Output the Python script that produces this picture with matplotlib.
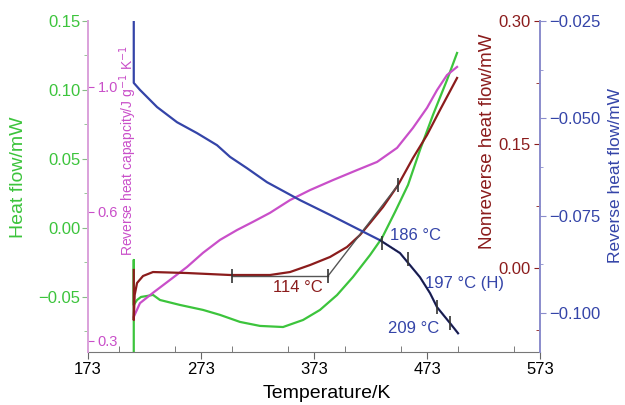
import matplotlib
matplotlib.use("Agg")
import matplotlib.pyplot as plt
import numpy as np
from matplotlib.ticker import FuncFormatter, MultipleLocator, FixedLocator

plt.rcParams['font.family'] = ['Liberation Sans', 'DejaVu Sans']

# ---------------- donnees ----------------
# flux de chaleur total (mW) - axe vert
T_hf = [213.5, 213.5, 213.5, 216.4, 219.9, 225.2, 230.5, 236.7, 254.4, 274.8, 289.8,
        307.5, 325.2, 345.6, 363.3, 378.3, 393.4, 407.5, 422.6, 433.2, 444.7, 456.2,
        466.8, 478.3, 490.7, 499.6]
hf = [-0.090, -0.0233, -0.0559, -0.0523, -0.0501, -0.0494, -0.0486, -0.0523, -0.0559,
      -0.0595, -0.0631, -0.0682, -0.0711, -0.0719, -0.0668, -0.0595, -0.0487, -0.0356,
      -0.0197, -0.0073, 0.0115, 0.0311, 0.0565, 0.0819, 0.1072, 0.1268]

# flux non reversible (mW) - axe rouge fonce
T_nr = [213.5, 213.5, 214.3, 216.4, 221.7, 230.5, 260.6, 298.7, 334.1, 351.8, 369.5,
        387.2, 402.2, 413.7, 422.6, 434.1, 447.4, 460.6, 473.0, 484.5, 499.6]
nr = [-0.0024, -0.0632, -0.0328, -0.0182, -0.0097, -0.0049, -0.0061, -0.0085, -0.0085,
      -0.0049, 0.0036, 0.0134, 0.0255, 0.0401, 0.0547, 0.0741, 0.1008, 0.1336, 0.1615,
      0.1919, 0.2308]

# flux reversible (mW) - axe bleu
T_rev = [213.5, 213.5, 219.0, 234.1, 251.8, 269.5, 287.2, 298.7, 313.7, 331.4, 360.6,
         387.2, 413.7, 431.4, 449.1, 466.8, 475.7, 481.9, 493.4, 500.5]
rev = [-0.0250, -0.0409, -0.0427, -0.0471, -0.0510, -0.0538, -0.0569, -0.0599, -0.0628,
       -0.0664, -0.0710, -0.0748, -0.0787, -0.0813, -0.0846, -0.0908, -0.0949, -0.0985,
       -0.1026, -0.1052]

# capacite calorifique reversible (J/g/K) - axe magenta
T_cp = [213.5, 219.0, 230.5, 245.6, 260.6, 274.8, 289.8, 304.9, 319.0, 334.1, 351.8,
        369.5, 389.8, 411.1, 428.8, 446.5, 460.6, 473.0, 481.9, 490.7, 499.6]
cp = [0.356, 0.388, 0.412, 0.442, 0.472, 0.505, 0.535, 0.558, 0.577, 0.598, 0.638,
      0.670, 0.702, 0.734, 0.760, 0.805, 0.869, 0.933, 0.990, 1.038, 1.064]

# reperes (petits traits) et constructions
T_nr_marks = [300.4, 385.4, 447.4]
nr_marks = [-0.0097, -0.0097, 0.1008]
T_rev_marks = [433.2, 456.2, 481.9, 493.4]
rev_marks = [-0.0820, -0.0862, -0.0985, -0.1026]
T_base = [300.4, 385.4]
nr_base = [-0.0097, -0.0097]
T_tan = [385.4, 447.4]
nr_tan = [-0.0097, 0.1008]

x_ticks = [173, 273, 373, 473, 573]
hf_ticks = [-0.05, 0.00, 0.05, 0.10, 0.15]
nr_ticks = [0.00, 0.15, 0.30]
rev_ticks = [-0.100, -0.075, -0.050, -0.025]
cp_ticks = [0.3, 0.6, 1.0]

# couleurs
c_green = '#3cc43c'
c_red = '#8b1c1c'
c_blue = '#3444a8'
c_mag = '#c94fc9'
c_grey = '#555555'


def moins(fmt):
    return FuncFormatter(lambda v, p: (fmt % v).replace('-', '\u2212'))


# echelle magenta non lineaire (graduations de l'original)
cp_knots = [0.2, 0.3, 0.6, 1.0, 1.4]
cp_lin = [0.2, 0.3, 0.6, 0.8907, 1.1814]


def cp_fwd(v):
    return np.interp(v, cp_knots, cp_lin)


def cp_inv(u):
    return np.interp(u, cp_lin, cp_knots)


# ---------------- figure ----------------
fig = plt.figure(figsize=(6.25, 4.05), dpi=100)
ax = fig.add_axes([0.1408, 0.1309, 0.7232, 0.8173])
ax_m = ax.twinx()
ax_n = ax.twinx()
ax_b = ax.twinx()

for a in (ax, ax_m, ax_n, ax_b):
    for s in a.spines.values():
        s.set_visible(False)
    a.set_xlim(173, 573)

# axe vert (gauche, exterieur)
ax.plot(T_hf, hf, color=c_green, lw=1.6)
ax.set_ylim(-0.09, 0.15)
ax.yaxis.set_major_locator(FixedLocator(hf_ticks))
ax.yaxis.set_minor_locator(MultipleLocator(0.025))
ax.yaxis.set_major_formatter(moins('%.2f'))
ax.tick_params(axis='y', which='both', direction='out', length=4.5, pad=1,
               colors='#88bb88', labelcolor=c_green, labelsize=12)
ax.tick_params(axis='y', which='minor', length=3)
ax.set_ylabel('Heat flow/mW', color=c_green, fontsize=14)
ax.yaxis.set_label_coords(-0.135, 0.527)
ax.spines['left'].set_visible(True)
ax.spines['left'].set_color('#dba3db')
ax.spines['left'].set_linewidth(1.4)

ax.spines['bottom'].set_visible(True)
ax.spines['bottom'].set_color('#777777')
ax.xaxis.set_major_locator(FixedLocator(x_ticks))
ax.xaxis.set_minor_locator(MultipleLocator(50))
ax.tick_params(axis='x', which='major', direction='out', length=5, pad=2,
               colors='#666666', labelcolor='black', labelsize=12)
ax.tick_params(axis='x', which='minor', direction='in', length=4, colors='#666666')
ax.set_xlabel('Temperature/K', fontsize=14)
ax.xaxis.set_label_coords(0.529, -0.100)

# axe magenta (gauche, interieur)
ax_m.plot(T_cp, cp, color=c_mag, lw=1.6)
ax_m.set_yscale('function', functions=(cp_fwd, cp_inv))
ax_m.set_ylim(0.2744, 1.211)
ax_m.yaxis.set_ticks_position('left')
ax_m.yaxis.set_major_locator(FixedLocator(cp_ticks))
ax_m.yaxis.set_minor_locator(FixedLocator([]))
ax_m.yaxis.set_major_formatter(FuncFormatter(lambda v, p: '%.1f' % v))
ax_m.spines['left'].set_visible(True)
ax_m.spines['left'].set_color('#dba3db')
ax_m.spines['left'].set_linewidth(1.4)
ax_m.tick_params(axis='y', direction='in', length=4.5, pad=-7, colors=c_mag,
                 labelcolor=c_mag, labelsize=10.5, labelleft=True, labelright=False)
for t in ax_m.yaxis.get_major_ticks():
    t.label1.set_horizontalalignment('left')
ax_m.text(0.088, 0.607, 'Reverse heat capapcity/J g$^{-1}$ K$^{-1}$', transform=ax_m.transAxes,
          rotation=90, ha='center', va='center', color=c_mag, fontsize=10)

# axe rouge (droite, interieur)
ax_n.plot(T_nr, nr, color=c_red, lw=1.6)
ax_n.plot(T_base, nr_base, color=c_grey, lw=1)
ax_n.plot(T_tan, nr_tan, color=c_grey, lw=1)
ax_n.plot(T_nr_marks, nr_marks, ls='none', marker='|', ms=10, mew=1.2, color='#333333')
ax_n.set_ylim(-0.102, 0.30)
ax_n.yaxis.set_ticks_position('right')
ax_n.yaxis.set_major_locator(FixedLocator(nr_ticks))
ax_n.yaxis.set_minor_locator(MultipleLocator(0.075))
ax_n.yaxis.set_major_formatter(moins('%.2f'))
ax_n.tick_params(axis='y', which='both', direction='in', length=4.5, pad=-7,
                 colors=c_red, labelcolor=c_red, labelsize=12)
ax_n.tick_params(axis='y', which='minor', length=3)
for t in ax_n.yaxis.get_major_ticks():
    t.label2.set_horizontalalignment('right')
ax_n.text(0.883, 0.637, 'Nonreverse heat flow/mW', transform=ax_n.transAxes,
          rotation=90, ha='center', va='center', color=c_red, fontsize=13.5)

# axe bleu (droite, exterieur)
ax_b.plot(T_rev, rev, color=c_blue, lw=1.6)
T_fin = [t for t in T_rev if t >= 431]
rev_fin = rev[len(rev) - len(T_fin):]
ax_b.plot(T_fin, rev_fin, color='#1c1c3c', lw=1.1)
ax_b.plot(T_rev_marks, rev_marks, ls='none', marker='|', ms=10, mew=1.2, color='#333333')
ax_b.set_ylim(-0.110, -0.025)
ax_b.spines['right'].set_visible(True)
ax_b.spines['right'].set_color('#8a8ccc')
ax_b.spines['right'].set_linewidth(1.4)
ax_b.yaxis.set_major_locator(FixedLocator(rev_ticks))
ax_b.yaxis.set_minor_locator(MultipleLocator(0.0125))
ax_b.yaxis.set_major_formatter(moins('%.3f'))
ax_b.tick_params(axis='y', which='both', direction='out', length=4.5, pad=2,
                 colors='#8a8ccc', labelcolor=c_blue, labelsize=12)
ax_b.tick_params(axis='y', which='minor', length=2.5)
ax_b.set_ylabel('Reverse heat flow/mW', color=c_blue, fontsize=12.5)
ax_b.yaxis.set_label_coords(1.150, 0.532)

# annotations
ax.text(358.9, -0.0429, '114 °C', color=c_red, fontsize=12, ha='center', va='center')
ax.text(462.4, -0.0059, '186 °C', color=c_blue, fontsize=12, ha='center', va='center')
ax.text(506.6, -0.0400, '197 °C (H)', color=c_blue, fontsize=12, ha='center', va='center')
ax.text(461.5, -0.0733, '209 °C', color=c_blue, fontsize=12, ha='center', va='center')

plt.savefig('out.png', dpi=100)
